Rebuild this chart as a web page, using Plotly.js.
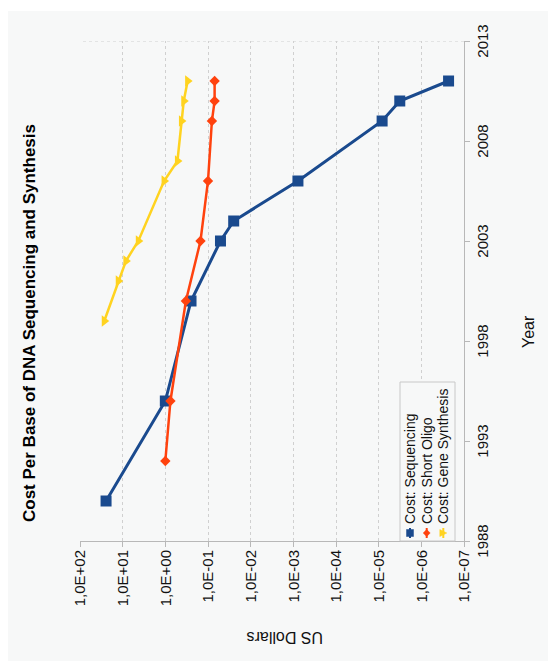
<!DOCTYPE html>
<html>
<head>
<meta charset="utf-8">
<script src="https://cdn.plot.ly/plotly-3.0.1.min.js"></script>
<style>
  html, body { margin: 0; padding: 0; background: #ffffff; overflow: hidden; width: 548px; height: 661px; }
  #chart { position: absolute; left: 0; top: 0; width: 650px; height: 540px;
           transform-origin: 0 0; transform: translate(8px, 661px) rotate(-90deg); }
</style>
</head>
<body>
<div id="chart"></div>
<script>
// ---- data ----
const seqYears   = [1990, 1995, 2000, 2003, 2004, 2006, 2009, 2010, 2011];
const seqCost    = [24.5, 1.0, 0.25, 0.051, 0.025, 0.00078, 8.3e-6, 3.2e-6, 2.3e-7];
const oligoYears = [1992, 1995, 2000, 2003, 2006, 2009, 2010, 2011];
const oligoCost  = [1.0, 0.76, 0.33, 0.15, 0.10, 0.081, 0.07, 0.07];
const geneYears  = [1999, 2001, 2002, 2003, 2006, 2007, 2009, 2010, 2011];
const geneCost   = [27, 12.7, 8.4, 4.3, 1.07, 0.52, 0.42, 0.37, 0.30];
const seriesNames = ['Cost: Sequencing', 'Cost: Short Oligo', 'Cost: Gene Synthesis'];
const seriesColors = ['#1a4a8e', '#ff420e', '#ffd320'];
const yearTicks  = [1988, 1993, 1998, 2003, 2008, 2013];
const costTicks  = [1e2, 1e1, 1e0, 1e-1, 1e-2, 1e-3, 1e-4, 1e-5, 1e-6, 1e-7];
const costTickText = ['1,0E+02','1,0E+01','1,0E+00','1,0E-01','1,0E-02','1,0E-03','1,0E-04','1,0E-05','1,0E-06','1,0E-07'];

const FONT = '"Liberation Sans", Arial, sans-serif';
const BG = '#f7f8f8';
const GRID = '#d0d0d0';
const AXIS = '#b8b8b8';

const traces = [
  { x: seqYears, y: seqCost, name: seriesNames[0], type: 'scatter', mode: 'lines+markers', showlegend: false,
    line: { color: seriesColors[0], width: 3 }, marker: { symbol: 'square', size: 11, color: seriesColors[0] } },
  { x: oligoYears, y: oligoCost, name: seriesNames[1], type: 'scatter', mode: 'lines+markers', showlegend: false,
    line: { color: seriesColors[1], width: 2.5 }, marker: { symbol: 'diamond', size: 8, color: seriesColors[1] } },
  { x: geneYears, y: geneCost, name: seriesNames[2], type: 'scatter', mode: 'lines+markers', showlegend: false,
    line: { color: seriesColors[2], width: 2.5 }, marker: { symbol: 'triangle-down', size: 10, color: seriesColors[2] } }
];

// ---- legend box (drawn in paper coordinates of the unrotated chart) ----
const PW = 500, PH = 384;               // plot area size in px
const px = u => u / PW, py = v => v / PH;
const legX0 = 0, legX1 = px(159), legY0 = py(9), legY1 = py(64);
const rowY = [py(54), py(37.3), py(20.7)];
const symX = px(8), lineHalf = px(5), textX = px(15);
const shapes = [
  { type: 'line', xref: 'x', yref: 'paper', x0: 2013, x1: 2013, y0: 0, y1: 1, line: { color: GRID, width: 1, dash: 'dot' } },
  { type: 'rect', xref: 'paper', yref: 'paper', x0: legX0, x1: legX1, y0: legY0, y1: legY1,
    fillcolor: BG, line: { color: '#c8c8c8', width: 1 }, layer: 'above' }
];
const annotations = [
  { text: 'US Dollars', xref: 'paper', yref: 'paper', x: -0.194, y: 0.466, textangle: -90,
    showarrow: false, xanchor: 'center', yanchor: 'middle', font: { family: FONT, size: 16, color: '#111' } },
  { text: 'Year', xref: 'paper', yref: 'paper', x: 0.418, y: -0.169,
    showarrow: false, xanchor: 'center', yanchor: 'middle', font: { family: FONT, size: 16, color: '#111' } }
];
const markerPath = (k, cx, cy) => {
  const hx = px(3.5), hy = py(3.5);
  if (k === 0) return `M${cx-hx},${cy-hy} L${cx+hx},${cy-hy} L${cx+hx},${cy+hy} L${cx-hx},${cy+hy} Z`;
  if (k === 1) return `M${cx-hx},${cy} L${cx},${cy+hy} L${cx+hx},${cy} L${cx},${cy-hy} Z`;
  return `M${cx-hx},${cy+hy} L${cx+hx},${cy+hy} L${cx},${cy-hy} Z`;
};
seriesNames.forEach((name, k) => {
  shapes.push({ type: 'line', xref: 'paper', yref: 'paper', x0: symX - lineHalf, x1: symX + lineHalf, y0: rowY[k], y1: rowY[k],
                line: { color: seriesColors[k], width: 2 }, layer: 'above' });
  shapes.push({ type: 'path', xref: 'paper', yref: 'paper', path: markerPath(k, symX, rowY[k]),
                fillcolor: seriesColors[k], line: { color: seriesColors[k], width: 0.5 }, layer: 'above' });
  annotations.push({ text: name, xref: 'paper', yref: 'paper', x: textX, y: rowY[k], xanchor: 'left', yanchor: 'middle',
                     showarrow: false, font: { family: FONT, size: 14, color: '#111' } });
});

const layout = {
  width: 650, height: 540,
  margin: { l: 120, r: 30, t: 72, b: 84, pad: 0 },
  paper_bgcolor: BG, plot_bgcolor: BG,
  font: { family: FONT, size: 15, color: '#111' },
  title: { text: '<b>Cost Per Base of DNA Sequencing and Synthesis</b>', font: { family: FONT, size: 17, color: '#000' },
           xref: 'container', x: 0.52, xanchor: 'center', yref: 'container', y: 0.961, yanchor: 'middle' },
  showlegend: false,
  xaxis: { range: [1988, 2013], tickvals: yearTicks, ticktext: yearTicks.map(String),
           showgrid: false, zeroline: false, showline: true, linecolor: AXIS, linewidth: 1,
           ticks: 'outside', ticklen: 5, tickcolor: AXIS, tickfont: { family: FONT, size: 15, color: '#111' } },
  yaxis: { type: 'log', range: [-7, 2], tickvals: costTicks, ticktext: costTickText,
           showgrid: true, gridcolor: GRID, griddash: 'dot', gridwidth: 1, zeroline: false,
           showline: true, linecolor: AXIS, linewidth: 1,
           ticks: 'outside', ticklen: 5, tickcolor: AXIS, tickfont: { family: FONT, size: 15, color: '#111' } },
  shapes: shapes,
  annotations: annotations
};

Plotly.newPlot('chart', traces, layout, { displayModeBar: false, staticPlot: true });
</script>
</body>
</html>
